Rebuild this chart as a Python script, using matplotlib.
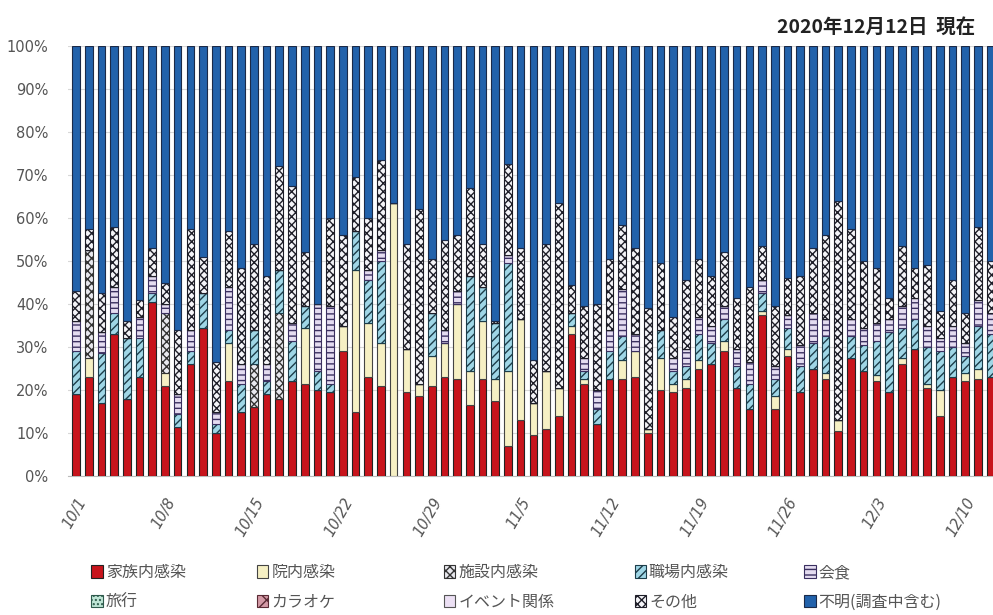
import numpy as np
import matplotlib
matplotlib.use("Agg")
import matplotlib.pyplot as plt
from matplotlib.patches import Patch

plt.rcParams['font.family'] = ['Noto Sans CJK JP', 'DejaVu Sans']
plt.rcParams['hatch.linewidth'] = 1.0

# 2020/10/1 - 12/12, one bar per day (percent of new cases by route)
dates = ['10/%d' % d for d in range(1, 32)] + ['11/%d' % d for d in range(1, 31)] + \
        ['12/%d' % d for d in range(1, 13)]

kazoku = [19, 23, 17, 33, 18, 23, 40.5, 21, 11.5, 26, 34.5, 10,
          22, 15, 16, 19, 18, 22, 21.5, 20, 19.5, 29, 15, 23,
          21, 0, 19.5, 18.5, 21, 23, 22.5, 16.5, 22.5, 17.5, 7, 13,
          9.5, 11, 14, 33, 21.5, 12, 22.5, 22.5, 23, 10, 20, 19.5,
          20.5, 25, 26, 29, 20.5, 15.5, 37.5, 15.5, 28, 19.5, 25, 22.5,
          10.5, 27.5, 24.5, 22, 19.5, 26, 29.5, 20.5, 14, 23, 22, 22.5, 23]
innai = [0, 4.5, 0, 0, 0, 0, 0, 3, 0, 0, 0, 0,
         9, 0, 0, 0, 0, 0, 13, 0, 0, 6, 33, 12.5,
         10, 63.5, 10, 3, 7, 8, 17.5, 8, 13.5, 5, 17.5, 23.5,
         7.5, 13.5, 6.5, 2, 1, 0, 0, 4.5, 6, 1, 7.5, 2,
         2, 2, 0, 2.5, 0, 0, 1, 3, 1.5, 0, 0, 1.5,
         2.5, 0, 0, 1.5, 0, 1.5, 0, 1, 6, 0, 2, 2.5, 0]
shisetsu = [0, 25, 0, 0, 0, 0, 0, 14, 0, 0, 0, 0,
            0, 0, 10, 0, 20, 0, 0, 0, 0, 0, 0, 0,
            0, 0, 0, 0, 0, 0, 0, 0, 0, 0, 0, 0,
            0, 0, 0, 0, 0, 0, 0, 0, 0, 0, 0, 0,
            0, 0, 0, 0, 0, 0, 0, 0, 0, 0, 0, 0,
            0, 0, 0, 0, 0, 0, 0, 0, 0, 0, 0, 0, 0]
shokuba = [10, 0, 11.5, 5, 14, 9, 2, 0, 3, 3, 8, 2,
           3, 6.5, 8, 3, 10, 9.5, 5, 4.5, 2, 0, 9, 10,
           19, 0, 0, 0, 10, 0, 0, 22, 8, 13, 25, 0,
           0, 0, 0, 3, 2, 3.5, 6.5, 5.5, 0, 0, 6.5, 3,
           3, 6, 5, 5, 5, 6, 4, 4, 5, 6, 6, 8.5,
           0, 5, 6, 8, 14, 7, 7, 8.5, 9, 7, 4, 10, 10]
kaishoku = [7, 0, 5, 6, 0, 5, 4, 2, 4.5, 5, 0, 3,
            10, 4.5, 0, 4, 0, 4, 0, 15.5, 18, 0, 0, 2.5,
            2.5, 0, 0, 0, 0, 3, 3, 0, 0, 0, 2, 0,
            0, 0, 0, 0, 3, 4.5, 5, 11, 4, 0, 0, 3,
            4, 4, 4, 3, 4, 5, 3, 3, 3, 5, 7, 4,
            0, 4, 4, 4, 3, 5, 5, 5, 3, 5, 3, 6, 5]
ryokou = [0] * 73
karaoke = [0] * 73
event = [0] * 73
sonota = [7, 5, 9, 14, 4, 4, 6.5, 5, 15, 23.5, 8.5, 11.5,
          13, 22.5, 20, 20.5, 24, 32, 12.5, 0, 20.5, 21, 12.5, 12,
          21, 0, 24.5, 40.5, 12.5, 21, 13, 20.5, 10, 0.5, 21, 16.5,
          10, 29.5, 43, 6.5, 12, 20, 16.5, 15, 20, 28, 15.5, 9.5,
          16, 13.5, 11.5, 12.5, 12, 17.5, 8, 14, 8.5, 16, 15, 19.5,
          51, 21, 15.5, 13, 5, 14, 7, 14, 6.5, 10.5, 7, 17, 12]
fumei = [57, 42.5, 57.5, 42, 64, 59, 47, 55, 66, 42.5, 49, 73.5,
         43, 51.5, 46, 53.5, 28, 32.5, 48, 60, 40, 44, 30.5, 40,
         26.5, 36.5, 46, 38, 49.5, 45, 44, 33, 46, 64, 27.5, 47,
         73, 46, 36.5, 55.5, 60.5, 60, 49.5, 41.5, 47, 61, 50.5, 63,
         54.5, 49.5, 53.5, 48, 58.5, 56, 46.5, 60.5, 54, 53.5, 47, 44,
         36, 42.5, 50, 51.5, 58.5, 46.5, 51.5, 51, 61.5, 54.5, 62, 42, 50]

labels = ['家族内感染', '院内感染', '施設内感染', '職場内感染', '会食',
          '旅行', 'カラオケ', 'イベント関係', 'その他', '不明(調査中含む)']
series = [kazoku, innai, shisetsu, shokuba, kaishoku, ryokou, karaoke, event, sonota, fumei]
faces = ['#c8141c', '#f6f0c4', '#e8e8ee', '#9fd6e6', '#e4dcf0',
         '#bfe6d6', '#d49aa6', '#ece0f4', '#f4f4f8', '#2262ab']
hatches = [None, None, 'xxxx', '////', '---', '....', 'xx', None, 'xxxx', None]
edges = ['#222222', '#444444', '#333333', '#1d3d4a', '#3b3060',
         '#2e5a4c', '#5a2a34', '#555555', '#1e1e28', '#1b2a48']

fig = plt.figure(figsize=(9.93, 6.15), dpi=100)
ax = fig.add_axes([0.0685, 0.226, 0.9315, 0.699])

x = np.arange(len(dates))
bottom = np.zeros(len(dates))
for vals, lab, fc, ht, ec in zip(series, labels, faces, hatches, edges):
    v = np.array(vals, dtype=float)
    ax.bar(x, v, 0.6, bottom=bottom, color=fc, edgecolor=ec, hatch=ht,
           linewidth=0.8, zorder=3)
    bottom += v

ax.set_ylim(0, 100)
ax.set_xlim(-0.63, 72.18)
ax.set_yticks(range(0, 101, 10))
ax.set_yticklabels(['%d%%' % t for t in range(0, 101, 10)], fontsize=10.5,
                   color='#555555', family=['DejaVu Sans'])
ax.set_xticks(x[::7])
ax.set_xticklabels([dates[i] for i in x[::7]], rotation=60, ha='right', va='top',
                   rotation_mode='anchor', fontsize=10.5, color='#555555',
                   family=['DejaVu Sans'], style='italic')
ax.tick_params(axis='y', length=0, pad=14)
ax.tick_params(axis='x', length=0, pad=14)
ax.grid(axis='y', color='#d8d8d8', linewidth=0.8, zorder=0)
for s in ['top', 'right', 'left']:
    ax.spines[s].set_visible(False)
ax.spines['bottom'].set_color('#bbbbbb')

fig.text(0.982, 0.955, '2020年12月12日  現在', ha='right', va='center',
         fontsize=14, fontweight='bold', color='#222222')

# legend laid out as two rows of five
handles = [Patch(facecolor=fc, edgecolor=ec, hatch=ht, linewidth=0.8)
           for fc, ht, ec in zip(faces, hatches, edges)]
col_x = [0.092, 0.259, 0.447, 0.639, 0.810]
for c in range(5):
    lg = fig.legend([handles[c], handles[c + 5]], [labels[c], labels[c + 5]],
                    loc='upper left', bbox_to_anchor=(col_x[c], 0.083),
                    frameon=False, fontsize=11.5, handlelength=0.7, handleheight=0.8,
                    handletextpad=0.2, labelspacing=0.8, borderpad=0, borderaxespad=0)
    for t in lg.get_texts():
        t.set_color('#555555')

fig.savefig('out.png', dpi=100)
